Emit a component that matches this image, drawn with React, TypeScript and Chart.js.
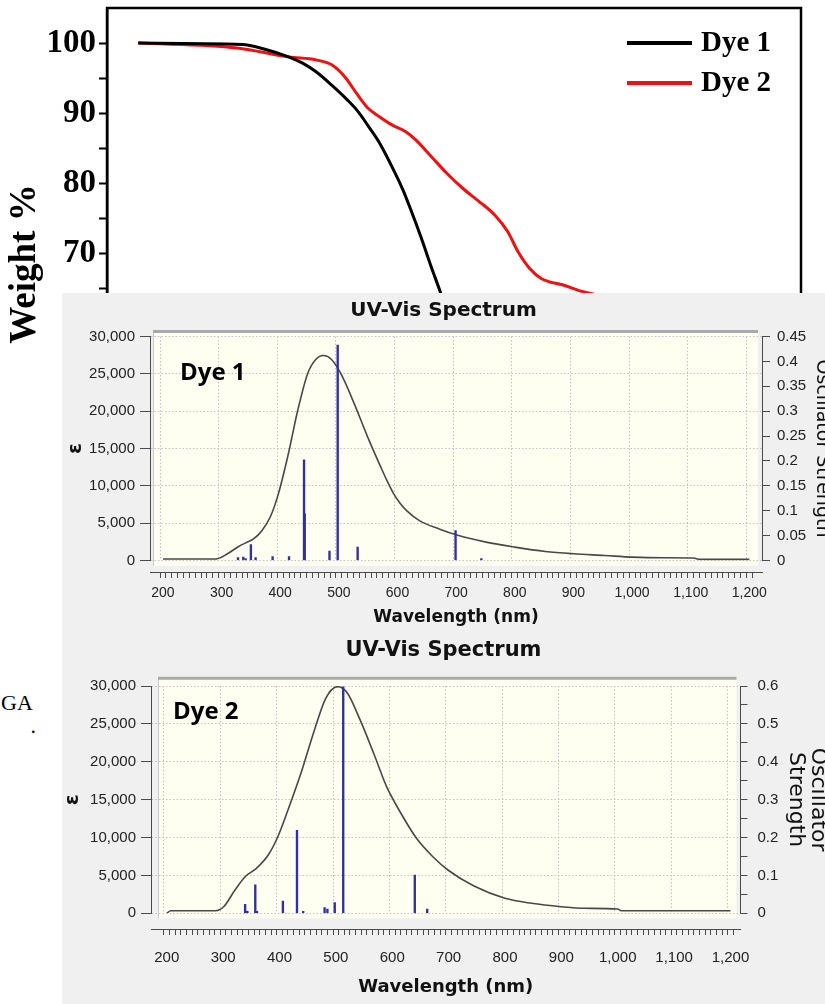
import React, { useEffect, useRef } from 'react';
import { Chart, registerables } from 'chart.js';

Chart.register(...registerables);

// ---------------- TGA (background chart) ----------------
const tgaDye1Temperature = [36, 156, 180, 210, 226, 241, 259, 277, 289, 301, 314, 332, 341, 350, 362, 374, 385, 400, 420, 450, 520, 650, 800];
const tgaDye1Weight = [100, 99.8, 99.2, 98, 97.1, 95.9, 94, 91.9, 90.3, 88.2, 85.8, 81.5, 79.1, 76.3, 72.3, 68, 64.2, 58, 50, 44, 40, 37, 35];
const tgaDye2Temperature = [36, 150, 210, 241, 259, 274, 289, 301, 314, 329, 344, 356, 374, 392, 410, 429, 447, 462, 474, 487, 501, 526, 550, 600, 700, 800];
const tgaDye2Weight = [100, 99.3, 98, 97.6, 96.9, 95.2, 92.6, 90.7, 89.5, 88.3, 87.4, 86.2, 83.8, 81.4, 79.3, 77.4, 75.5, 73.1, 70.2, 67.9, 66.4, 65.5, 64.5, 63.2, 61, 59];
const tgaSeriesNames = ['Dye 1', 'Dye 2'];

// ---------------- UV-Vis, Dye 1 ----------------
const dye1Wavelength = [200, 290, 310, 329, 345, 355, 369, 383, 397, 414, 430, 447, 461, 474, 487, 503, 526, 549, 571, 582, 593, 605, 616, 638, 672, 700, 751, 800, 852, 900, 953, 1000, 1054, 1105, 1115, 1200];
const dye1Epsilon = [200, 200, 900, 1880, 2500, 2915, 4030, 5820, 8960, 14330, 20150, 25080, 26960, 27450, 26960, 25080, 21050, 16560, 12600, 10700, 9000, 7600, 6650, 5300, 4200, 3450, 2460, 1790, 1210, 900, 670, 450, 360, 330, 150, 150];
const dye1StickWavelength = [328, 337, 341, 350, 358, 387, 415, 440.6, 441.8, 484, 498, 532, 699, 743];
const dye1StickStrength = [0.006, 0.007, 0.002, 0.032, 0.006, 0.008, 0.008, 0.202, 0.094, 0.019, 0.433, 0.027, 0.06, 0.002];

// ---------------- UV-Vis, Dye 2 ----------------
const dye2Wavelength = [200, 207, 286, 301, 321, 339, 359, 380, 397, 415, 438, 462, 482, 503, 520, 543, 567, 590, 613, 643, 672, 700, 745, 800, 847, 900, 941, 1000, 1006, 1200];
const dye2Epsilon = [0, 340, 340, 870, 3080, 4830, 5940, 7700, 10110, 13640, 18480, 24200, 28380, 29910, 29120, 25520, 21120, 16710, 13500, 9900, 7470, 5650, 3600, 1980, 1320, 870, 660, 570, 340, 340];
const dye2StickWavelength = [339, 341, 343, 357, 360, 406, 431, 442, 480, 485, 498, 513, 640, 662];
const dye2StickStrength = [0.024, 0.006, 0.005, 0.075, 0.004, 0.032, 0.219, 0.004, 0.015, 0.011, 0.028, 0.598, 0.101, 0.011];

const UV_TITLE = 'UV-Vis Spectrum';
const UV_X_TITLE = 'Wavelength (nm)';
const UV_Y_TITLE = 'ε';

const SERIF = "'Liberation Serif', 'Times New Roman', serif";
const SANS = "'Liberation Sans', Arial, sans-serif";
const BOLD_SANS = "'DejaVu Sans', Verdana, sans-serif";

// ---------- plugins ----------
const frameAndLegendPlugin = {
  id: 'frameLegend',
  afterDatasetsDraw(chart: any) {
    const { ctx, chartArea: a } = chart;
    ctx.save();
    ctx.strokeStyle = '#000';
    ctx.lineWidth = 2.5;
    ctx.strokeRect(a.left, a.top, a.right - a.left, a.bottom - a.top);
    chart.data.datasets.forEach((ds: any, i: number) => {
      const y = a.top + 35 + i * 40;
      ctx.strokeStyle = ds.borderColor;
      ctx.lineWidth = 4;
      ctx.beginPath();
      ctx.moveTo(a.right - 174, y);
      ctx.lineTo(a.right - 109, y);
      ctx.stroke();
      ctx.fillStyle = '#000';
      ctx.font = `bold 29px ${SERIF}`;
      ctx.textBaseline = 'middle';
      ctx.textAlign = 'left';
      ctx.fillText(ds.label, a.right - 100, y + 1);
    });
    ctx.restore();
  },
};

const plotBgPlugin = {
  id: 'plotBg',
  beforeDraw(chart: any, _args: any, opts: any) {
    const { ctx, chartArea: a } = chart;
    const l = a.left + opts.left;
    const r = a.right - opts.right;
    const t = a.top - opts.top;
    const b = a.bottom + opts.bottom;
    ctx.save();
    ctx.fillStyle = '#fefef1';
    ctx.fillRect(l, t, r - l, b - t);
    ctx.strokeStyle = '#c9c9c9';
    ctx.lineWidth = 1;
    ctx.beginPath();
    ctx.moveTo(l + 0.5, b);
    ctx.lineTo(l + 0.5, t);
    ctx.stroke();
    ctx.strokeStyle = '#a9a9a9';
    ctx.lineWidth = 3;
    ctx.beginPath();
    ctx.moveTo(l, t + 1.5);
    ctx.lineTo(r, t + 1.5);
    ctx.stroke();
    ctx.restore();
  },
};

function tgaConfig(): any {
  return {
    type: 'line',
    data: {
      datasets: [
        {
          label: tgaSeriesNames[0],
          data: tgaDye1Temperature.map((x, i) => ({ x, y: tgaDye1Weight[i] })),
          borderColor: '#000000',
          borderWidth: 3,
          pointRadius: 0,
          cubicInterpolationMode: 'monotone',
        },
        {
          label: tgaSeriesNames[1],
          data: tgaDye2Temperature.map((x, i) => ({ x, y: tgaDye2Weight[i] })),
          borderColor: '#f01010',
          borderWidth: 3,
          pointRadius: 0,
          cubicInterpolationMode: 'monotone',
        },
      ],
    },
    options: {
      animation: false,
      responsive: false,
      events: [],
      layout: { padding: { left: 0, top: 8, right: 24, bottom: 80 } },
      plugins: { legend: { display: false }, tooltip: { enabled: false }, title: { display: false } },
      scales: {
        x: { type: 'linear', min: 0, max: 800, display: false },
        y: {
          type: 'linear',
          position: 'left',
          min: 32,
          max: 105,
          afterFit: (s: any) => { s.width = 107; s.paddingTop = 0; s.paddingBottom = 0; },
          ticks: {
            stepSize: 5,
            autoSkip: false,
            padding: 3,
            color: '#000',
            font: { family: SERIF, weight: 'bold', size: 33 },
            callback: (v: any) => (v > 100 ? null : v % 10 === 0 ? String(v) : ''),
          },
          grid: { drawOnChartArea: false, tickLength: 8, tickColor: '#000', tickWidth: 2 },
          border: { display: true, color: '#000', width: 2.5 },
          title: {
            display: true,
            text: 'Weight %',
            color: '#000',
            font: { family: SERIF, weight: 'bold', size: 37, lineHeight: 1.2 },
            padding: { top: 3, bottom: 0 },
          },
        },
      },
    },
    plugins: [frameAndLegendPlugin],
  };
}

type UvLayout = {
  leftW: number; rightW: number; padBottom: number;
  titleSize: number; titlePadTop: number; titlePadBottom: number;
  xMin: number; xMax: number; xAxisAt: number;
  xTickPad: number; xTickSize: number; xTitleSize: number; xTitlePadTop: number;
  yTickLen: number; yTickPad: number; yTickSize: number; yTitleSize: number; yTitlePadTop: number;
  rTickLen: number; rTickPad: number; rTickSize: number; rTitle: string | string[]; rTitleSize: number; rTitlePadTop: number;
  fMax: number; fLabelStep: number;
  inset: { left: number; right: number; top: number; bottom: number };
};

function uvConfig(
  curveX: number[], curveY: number[], stickX: number[], stickY: number[], L: UvLayout,
): any {
  const tickColor = '#4a4a4a';
  const labelColor = '#222';
  return {
    type: 'line',
    data: {
      datasets: [
        {
          type: 'bar',
          label: 'Oscillator Strength',
          data: stickX.map((x, i) => ({ x, y: stickY[i] })),
          xAxisID: 'x',
          yAxisID: 'yR',
          backgroundColor: '#3030a2',
          borderWidth: 0,
          barThickness: 1.7,
          minBarLength: 2,
          order: 0,
        },
        {
          type: 'line',
          label: 'ε',
          data: curveX.map((x, i) => ({ x, y: curveY[i] })),
          xAxisID: 'x',
          yAxisID: 'y',
          borderColor: '#484848',
          borderWidth: 1.6,
          pointRadius: 0,
          fill: false,
          cubicInterpolationMode: 'monotone',
          order: 1,
        },
      ],
    },
    options: {
      animation: false,
      responsive: false,
      events: [],
      layout: { padding: { left: 0, top: 0, right: 0, bottom: L.padBottom } },
      plugins: {
        legend: { display: false },
        tooltip: { enabled: false },
        title: {
          display: true,
          text: UV_TITLE,
          color: '#111',
          font: { family: BOLD_SANS, weight: 'bold', size: L.titleSize, lineHeight: 1.2 },
          padding: { top: L.titlePadTop, bottom: L.titlePadBottom },
        },
        plotBg: L.inset,
      },
      scales: {
        x: {
          type: 'linear',
          min: L.xMin,
          max: L.xMax,
          position: { y: L.xAxisAt },
          afterBuildTicks: (s: any) => {
            s.ticks = s.ticks.filter((t: any) => t.value >= 200 && t.value <= 1200);
          },
          ticks: {
            stepSize: 10,
            autoSkip: false,
            maxRotation: 0,
            minRotation: 0,
            padding: L.xTickPad,
            color: labelColor,
            font: { family: SANS, size: L.xTickSize, lineHeight: 1.2 },
            callback: (v: any) => (v % 100 === 0 ? Number(v).toLocaleString('en-US') : ''),
          },
          grid: {
            drawOnChartArea: true,
            color: (c: any) => (c.tick && c.tick.value % 100 === 0 ? '#c2c2c2' : 'rgba(0,0,0,0)'),
            tickColor,
            tickLength: 5,
            lineWidth: 1,
          },
          border: { display: true, color: tickColor, width: 1, dash: [1.5, 2] },
          title: {
            display: true,
            text: UV_X_TITLE,
            color: '#111',
            font: { family: BOLD_SANS, weight: 'bold', size: L.xTitleSize, lineHeight: 1.2 },
            padding: { top: L.xTitlePadTop, bottom: 0 },
          },
        },
        y: {
          type: 'linear',
          position: 'left',
          min: 0,
          max: 30000,
          afterFit: (s: any) => { s.width = L.leftW; },
          ticks: {
            stepSize: 5000,
            autoSkip: false,
            padding: L.yTickPad,
            color: labelColor,
            font: { family: SANS, size: L.yTickSize, lineHeight: 1.2 },
            callback: (v: any) => Number(v).toLocaleString('en-US'),
          },
          grid: { drawOnChartArea: true, color: '#c2c2c2', tickColor, tickLength: L.yTickLen, lineWidth: 1 },
          border: { display: true, color: tickColor, width: 1, dash: [1.5, 2] },
          title: {
            display: true,
            text: UV_Y_TITLE,
            color: '#111',
            font: { family: BOLD_SANS, weight: 'bold', size: L.yTitleSize, lineHeight: 1.2 },
            padding: { top: L.yTitlePadTop, bottom: 0 },
          },
        },
        yR: {
          type: 'linear',
          position: 'right',
          min: 0,
          max: L.fMax,
          afterFit: (s: any) => { s.width = L.rightW; },
          ticks: {
            stepSize: 0.05,
            autoSkip: false,
            padding: L.rTickPad,
            color: labelColor,
            font: { family: SANS, size: L.rTickSize, lineHeight: 1.2 },
            callback: (v: any) => {
              const hundredths = Math.round(v * 100);
              const step = Math.round(L.fLabelStep * 100);
              return hundredths % step === 0 ? String(hundredths / 100) : '';
            },
          },
          grid: { drawOnChartArea: false, tickColor, tickLength: L.rTickLen },
          border: { display: true, color: tickColor, width: 1 },
          title: {
            display: true,
            text: L.rTitle,
            color: '#111',
            font: { family: BOLD_SANS, size: L.rTitleSize, lineHeight: 1 },
            padding: { top: L.rTitlePadTop, bottom: 0 },
          },
        },
      },
    },
    plugins: [plotBgPlugin],
  };
}

const panel1Layout: UvLayout = {
  leftW: 88, rightW: 63, padBottom: 77.5,
  titleSize: 20, titlePadTop: 6, titlePadBottom: 13.5,
  xMin: 183.1, xMax: 1216.4, xAxisAt: -1674,
  xTickPad: 6.6, xTickSize: 14, xTitleSize: 17, xTitlePadTop: -0.6,
  yTickLen: 10, yTickPad: 5, yTickSize: 15, yTitleSize: 20, yTitlePadTop: 1.5,
  rTickLen: 8, rTickPad: 7, rTickSize: 15, rTitle: 'Oscillator Strength', rTitleSize: 19, rTitlePadTop: -6,
  fMax: 0.45, fLabelStep: 0.05,
  inset: { left: 3, right: 4, top: 6.5, bottom: 5.5 },
};

const panel2Layout: UvLayout = {
  leftW: 89, rightW: 84.5, padBottom: 90.7,
  titleSize: 21, titlePadTop: 10.4, titlePadBottom: 22.4,
  xMin: 177.2, xMax: 1212.6, xAxisAt: -2138,
  xTickPad: 14.5, xTickSize: 15, xTitleSize: 18, xTitlePadTop: -4.8,
  yTickLen: 10, yTickPad: 5, yTickSize: 15, yTitleSize: 20, yTitlePadTop: -1,
  rTickLen: 7, rTickPad: 10, rTickSize: 15, rTitle: ['Oscillator', 'Strength'], rTitleSize: 22, rTitlePadTop: -3.3,
  fMax: 0.6, fLabelStep: 0.1,
  inset: { left: 7, right: 4, top: 9.3, bottom: 5 },
};

function ChartCanvas(props: { make: () => any; left: number; top: number; width: number; height: number }) {
  const ref = useRef<HTMLCanvasElement>(null);
  useEffect(() => {
    const chart = new Chart(ref.current as HTMLCanvasElement, props.make());
    return () => chart.destroy();
  }, []);
  return (
    <canvas
      ref={ref}
      width={props.width}
      height={props.height}
      style={{ position: 'absolute', left: props.left, top: props.top, width: props.width, height: props.height, display: 'block' }}
    />
  );
}

export default function App() {
  return (
    <div style={{ position: 'fixed', left: 0, top: 0, width: 825, height: 1004, overflow: 'hidden', background: '#ffffff' }}>
      <ChartCanvas make={tgaConfig} left={0} top={0} width={825} height={600} />
      <div style={{ position: 'absolute', left: 1, top: 691.6, font: `22px/22px ${SERIF}`, color: '#000', whiteSpace: 'nowrap' }}>GA</div>
      <div style={{ position: 'absolute', left: 30.5, top: 714.6, font: `22px/22px ${SERIF}`, color: '#000', whiteSpace: 'nowrap' }}>.</div>
      <div style={{ position: 'absolute', left: 62, top: 293, width: 763, height: 711, background: '#f0f0f0' }} />
      <ChartCanvas
        make={() => uvConfig(dye2Wavelength, dye2Epsilon, dye2StickWavelength, dye2StickStrength, panel2Layout)}
        left={62} top={628} width={763} height={376}
      />
      <ChartCanvas
        make={() => uvConfig(dye1Wavelength, dye1Epsilon, dye1StickWavelength, dye1StickStrength, panel1Layout)}
        left={62} top={293} width={763} height={345}
      />
      <div style={{ position: 'absolute', left: 180, top: 359.4, font: "bold 24px/24px 'Open Sans', sans-serif", color: '#000', whiteSpace: 'nowrap' }}>Dye 1</div>
      <div style={{ position: 'absolute', left: 173, top: 697.7, font: "bold 24px/24px 'Open Sans', sans-serif", color: '#000', whiteSpace: 'nowrap' }}>Dye 2</div>
    </div>
  );
}
